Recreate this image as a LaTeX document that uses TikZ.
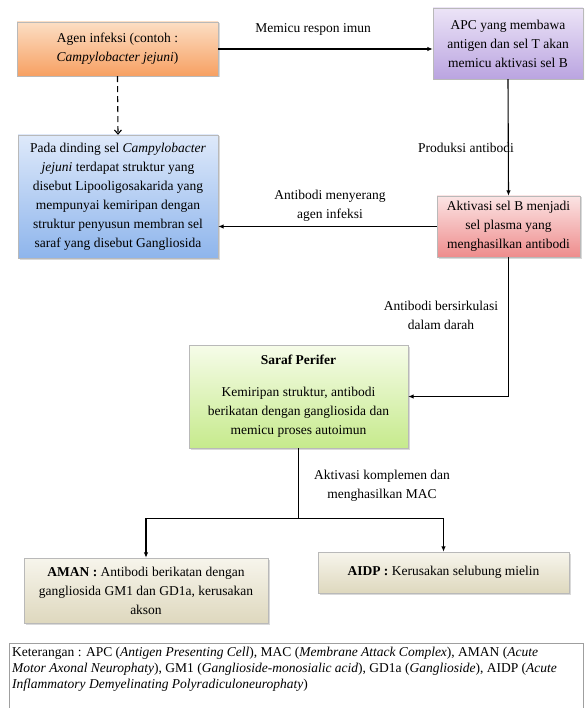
\documentclass[tikz,border=0pt]{standalone}
\usepackage{fontspec}
\setmainfont{Liberation Serif}
\usetikzlibrary{positioning,shapes,arrows,arrows.meta,shadows}

\definecolor{agtop}{RGB}{252,222,196}
\definecolor{agbot}{RGB}{247,160,98}
\definecolor{aptop}{RGB}{236,228,247}
\definecolor{apbot}{RGB}{186,164,224}
\definecolor{bltop}{RGB}{222,233,250}
\definecolor{blbot}{RGB}{142,181,236}
\definecolor{rdtop}{RGB}{251,228,228}
\definecolor{rdbot}{RGB}{238,140,140}
\definecolor{grtop}{RGB}{246,252,233}
\definecolor{grbot}{RGB}{198,234,140}
\definecolor{bgtop}{RGB}{247,245,236}
\definecolor{bgbot}{RGB}{222,216,190}

\begin{document}
\begin{tikzpicture}[x=1pt,y=-1pt,
  font=\fontsize{13.5}{19}\selectfont,
  box/.style={draw=gray!55,line width=0.4pt,align=center,inner sep=2pt,
    drop shadow={shadow xshift=1.5pt,shadow yshift=-1.5pt,opacity=.3}},
  lbl/.style={align=center,inner sep=0pt},
  arr/.style={-{Latex[length=5.5pt,width=4.5pt]},line width=1.1pt}
    ]
    \clip (0,0) rectangle (584,708);
    % boxes
    \node[box,top color=agtop,bottom color=agbot,minimum width=201pt,minimum height=54pt] (agen) at (117.5,49)
      {Agen infeksi (contoh :\\\textit{Campylobacter jejuni})};
    \node[box,top color=aptop,bottom color=apbot,minimum width=150pt,minimum height=71pt] (apc) at (508,43.5)
      {APC yang membawa\\antigen dan sel T akan\\memicu aktivasi sel B};
    \node[box,top color=bltop,bottom color=blbot,minimum width=200pt,minimum height=123pt] (dinding) at (118,196.5)
      {Pada dinding sel \textit{Campylobacter}\\\textit{jejuni} terdapat struktur yang\\disebut Lipooligosakarida yang\\mempunyai kemiripan dengan\\struktur penyusun membran sel\\saraf yang disebut Gangliosida};
    \node[box,top color=rdtop,bottom color=rdbot,minimum width=143pt,minimum height=61pt] (selb) at (508.5,226.5)
      {Aktivasi sel B menjadi\\sel plasma yang\\menghasilkan antibodi};
    \node[box,top color=grtop,bottom color=grbot,minimum width=219pt,minimum height=103pt] (saraf) at (298.5,396.5)
      {\textbf{Saraf Perifer}\\[13pt]Kemiripan struktur, antibodi\\berikatan dengan gangliosida dan\\memicu proses autoimun};
    \node[box,top color=bgtop,bottom color=bgbot,minimum width=244pt,minimum height=65pt] (aman) at (146,590.5)
      {\textbf{AMAN :} Antibodi berikatan dengan\\gangliosida GM1 dan GD1a, kerusakan\\akson};
    \node[box,top color=bgtop,bottom color=bgbot,minimum width=251pt,minimum height=41pt] (aidp) at (443.5,572.5)
      {\textbf{AIDP :} Kerusakan selubung mielin};
    % edge labels
    \node[lbl] (l1) at (313,29) {Memicu respon imun};
    \node[lbl] (l2) at (466,148) {Produksi antibodi};
    \node[lbl] (l3) at (330,206) {Antibodi menyerang\\agen infeksi};
    \node[lbl] (l4) at (441,315) {Antibodi bersirkulasi\\dalam darah};
    \node[lbl] (l5) at (382,486) {Aktivasi komplemen dan\\menghasilkan MAC};
    % connectors
    \draw[arr] (agen.east) -- (agen.east -| apc.west);
    \draw[-{Straight Barb[length=4pt,width=7pt]},line width=1.1pt,dash pattern=on 6pt off 4pt]
      (agen.south) -- (dinding.north);
    \draw[arr] (apc.south) -- (selb.north);
    \draw[arr] (selb.west) -- (selb.west -| dinding.east);
    \draw[arr] (selb.south) |- (saraf.east);
    \draw[line width=1.1pt] (saraf.south) -- ++(0,70) coordinate (cabang);
    \draw[arr] (cabang) -| (aman.north);
    \draw[arr] (cabang) -| (aidp.north);
    % keterangan
    \node[anchor=north west,text width=566pt,inner xsep=3pt,inner ysep=4pt,align=flush left,
      font=\fontsize{13.5}{16}\selectfont] (ket) at (9,643)
      {Keterangan : APC (\textit{Antigen Presenting Cell}), MAC (\textit{Membrane Attack Complex}), AMAN (\textit{Acute}\\
       \textit{Motor Axonal Neurophaty}), GM1 (\textit{Ganglioside-monosialic acid}), GD1a (\textit{Ganglioside}), AIDP (\textit{Acute}\\
       \textit{Inflammatory Demyelinating Polyradiculoneurophaty})};
    \draw[gray!75,line width=0.6pt] (ket.north west) rectangle (583,712);
    \end{tikzpicture}
\end{document}
